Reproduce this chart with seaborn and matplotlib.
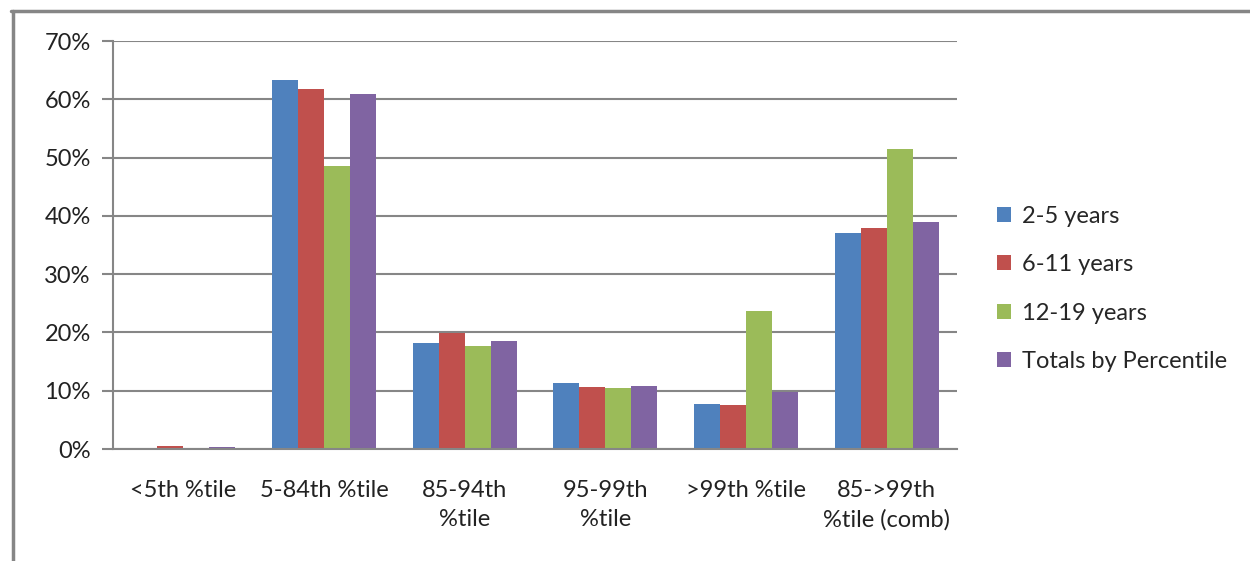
import matplotlib
matplotlib.use("Agg")
import matplotlib.pyplot as plt
import seaborn as sns
import pandas as pd
from matplotlib.lines import Line2D
from matplotlib.patches import Patch
from matplotlib.ticker import FuncFormatter, MultipleLocator

categories = ["<5th %tile", "5-84th %tile", "85-94th\n%tile", "95-99th\n%tile",
              ">99th %tile", "85->99th\n%tile (comb)"]
series = ["2-5 years", "6-11 years", "12-19 years", "Totals by Percentile"]
v_2_5 = [0.0, 63.3, 18.2, 11.3, 7.7, 37.1]
v_6_11 = [0.5, 61.8, 19.9, 10.6, 7.5, 38.0]
v_12_19 = [0.0, 48.5, 17.7, 10.5, 23.7, 51.5]
v_total = [0.3, 60.9, 18.5, 10.8, 9.8, 38.9]
colors = ["#4F81BD", "#C0504D", "#9BBB59", "#8064A2"]

rows = []
for s, vals in zip(series, [v_2_5, v_6_11, v_12_19, v_total]):
    for c, v in zip(categories, vals):
        rows.append({"cat": c, "series": s, "value": v})
df = pd.DataFrame(rows)

sns.set_style("white")
plt.rcParams["font.family"] = ["Lato", "DejaVu Sans"]
FS = 17

fig = plt.figure(figsize=(12.5, 5.61), dpi=100)
ax = fig.add_axes([113/1250, 1-449/561, (957-113)/1250, (449-41)/561])

sns.barplot(data=df, x="cat", y="value", hue="series", order=categories,
            hue_order=series, palette=colors, width=0.74, gap=0,
            saturation=1, ax=ax, legend=False, linewidth=0)

grid_c = "#868686"
ax.set_ylim(0, 70)
ax.set_xlim(-0.5, len(categories) - 0.5)
ax.yaxis.set_major_locator(MultipleLocator(10))
ax.yaxis.set_major_formatter(FuncFormatter(lambda v, p: f"{int(round(v))}%"))
ax.grid(axis="y", color=grid_c, linewidth=1.5)
ax.set_axisbelow(True)
for side in ["top", "right"]:
    ax.spines[side].set_visible(False)
for side in ["left", "bottom"]:
    ax.spines[side].set_color(grid_c)
    ax.spines[side].set_linewidth(1.5)

ax.set_xlabel("")
ax.set_ylabel("")
ax.set_xticks([i for i in range(len(categories))])
ax.set_xticklabels(categories, fontsize=FS, color="#222222", linespacing=1.5)
ax.tick_params(axis="x", length=0, pad=22)
ax.set_xticks([i - 0.5 for i in range(len(categories) + 1)], minor=True)
ax.tick_params(axis="x", which="minor", length=8, width=1.5, color=grid_c, direction="out")
ax.tick_params(axis="y", length=8, width=1.5, color=grid_c, direction="out",
               labelsize=FS, labelcolor="#222222", pad=8, left=True)

handles = [Patch(facecolor=c, edgecolor="none") for c in colors]
fig.legend(handles, series, loc="center left", bbox_to_anchor=(997/1250, 1-289/561),
           frameon=False, fontsize=FS, handlelength=0.6, handleheight=0.6,
           handletextpad=0.45, labelspacing=1.16, borderaxespad=0, borderpad=0)

fig.add_artist(Line2D([12.5/1250, 12.5/1250], [0, 1-10.5/561], color=grid_c,
                      linewidth=2.5, transform=fig.transFigure))
fig.add_artist(Line2D([11/1250, 1.0], [1-10.5/561, 1-10.5/561], color=grid_c,
                      linewidth=2.5, transform=fig.transFigure))

fig.savefig("out.png", dpi=100, facecolor="white")
